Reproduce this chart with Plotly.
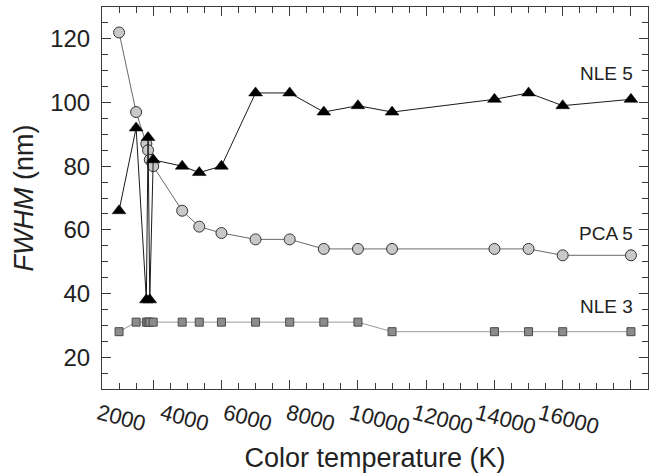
import plotly.graph_objects as go

# Colour temperature (K)
cct = [2000, 2500, 2800, 2850, 2900, 3000, 3850, 4350, 5000, 6000, 7000,
       8000, 9000, 10000, 13000, 14000, 15000, 17000]

nle5 = [66, 92, 38, 89, 38, 82, 80, 78, 80, 103, 103, 97, 99, 97, 101, 103, 99, 101]
pca5 = [122, 97, 87, 85, 82, 80, 66, 61, 59, 57, 57, 54, 54, 54, 54, 54, 52, 52]
nle3 = [28, 31, 31, 31, 31, 31, 31, 31, 31, 31, 31, 31, 31, 28, 28, 28, 28, 28]

tick_vals = [2000, 4000, 6000, 8000, 10000, 12000, 14000, 16000]
tick_text = ["2000", "4000", "6000", "8000", "10000", "12000", "14000", "16000"]

series_labels = ["NLE 5", "PCA 5", "NLE 3"]
label_y = [109, 59, 36]

FONT = "Liberation Sans, Arial, Helvetica, sans-serif"
TXT = "#222222"
AX = "#3a3a3a"

fig = go.Figure()

fig.add_trace(go.Scatter(
    x=cct, y=nle3, mode="lines+markers", name="NLE 3",
    line=dict(color="#9a9a9a", width=1),
    marker=dict(symbol="square", size=8, color="#8c8c8c",
                line=dict(color="#4a4a4a", width=1))))
fig.add_trace(go.Scatter(
    x=cct, y=pca5, mode="lines+markers", name="PCA 5",
    line=dict(color="#6a6a6a", width=1),
    marker=dict(symbol="circle", size=11, color="#c8c8c8",
                line=dict(color="#333333", width=1))))
fig.add_trace(go.Scatter(
    x=cct, y=nle5, mode="lines+markers", name="NLE 5",
    line=dict(color="#1a1a1a", width=1),
    marker=dict(symbol="triangle-up", size=12, color="#000000",
                line=dict(color="#000000", width=0.5))))
# carrier trace for the label axis
fig.add_trace(go.Scatter(x=[], y=[], xaxis="x2", yaxis="y", showlegend=False))

for name, yv in zip(series_labels, label_y):
    fig.add_annotation(x=cct[-1], y=yv, xref="x", yref="y", text=name,
                       showarrow=False, xanchor="right", yanchor="middle",
                       xshift=4, font=dict(family=FONT, size=19, color=TXT))

fig.update_layout(
    width=653, height=476,
    margin=dict(l=102, r=5, t=7, b=87),
    paper_bgcolor="white", plot_bgcolor="white",
    showlegend=False,
    font=dict(family=FONT, color=TXT),
    xaxis=dict(
        range=[1500, 17500], showgrid=False, zeroline=False,
        showline=True, linecolor=AX, linewidth=1, mirror="ticks",
        ticks="inside", ticklen=9, tickcolor=AX, tickwidth=1,
        tick0=3000, dtick=2000, showticklabels=False,
        minor=dict(ticks="inside", ticklen=6, dtick=500, tick0=3000,
                   tickcolor=AX, tickwidth=1, showgrid=False),
    ),
    xaxis2=dict(
        overlaying="x", side="bottom", anchor="y",
        range=[1470, 18784], showgrid=False, zeroline=False,
        showline=False, ticks="",
        tickmode="array", tickvals=tick_vals, ticktext=tick_text,
        tickangle=15, ticklabelshift=-20, ticklabelstandoff=7,
        tickfont=dict(family=FONT, size=22, color=TXT),
        title=dict(text="Color temperature (K)", standoff=9,
                   font=dict(family=FONT, size=27, color=TXT)),
    ),
    yaxis=dict(
        range=[10, 130], showgrid=False, zeroline=False,
        showline=True, linecolor=AX, linewidth=1, mirror="ticks",
        ticks="inside", ticklen=9, tickcolor=AX, tickwidth=1,
        tick0=0, dtick=20,
        minor=dict(ticks="inside", ticklen=6, dtick=5, tick0=0,
                   tickcolor=AX, tickwidth=1, showgrid=False),
        ticklabelstandoff=6,
        tickfont=dict(family=FONT, size=24, color=TXT),
        title=dict(text="<i>FWHM</i> (nm)", standoff=8,
                   font=dict(family=FONT, size=27, color=TXT)),
    ),
)

fig.write_html("out.html")
